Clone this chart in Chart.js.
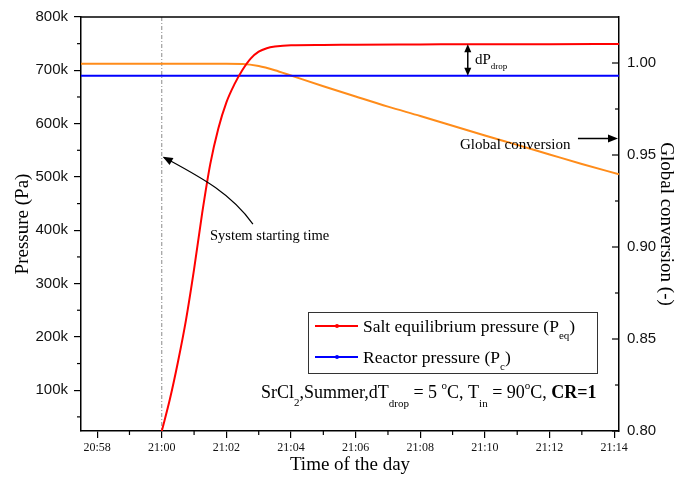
<!DOCTYPE html>
<html>
<head>
<meta charset="utf-8">
<style>
  html, body { margin: 0; padding: 0; background: #fff; }
  #wrap { width: 675px; height: 479px; }
</style>
<script src="https://cdn.jsdelivr.net/npm/chart.js@4.4.1/dist/chart.umd.min.js"></script>
</head>
<body>
<div id="wrap"><canvas id="chart"></canvas></div>
<script>
// x values are minutes relative to 21:00
const xTickValues = [-2, 0, 2, 4, 6, 8, 10, 12, 14];
const xTickLabels = ['20:58', '21:00', '21:02', '21:04', '21:06', '21:08', '21:10', '21:12', '21:14'];
const pressureTicks = [100000, 200000, 300000, 400000, 500000, 600000, 700000, 800000];
const conversionTicks = [0.80, 0.85, 0.90, 0.95, 1.00];

// Salt equilibrium pressure (Pa)
const saltTimes = [0, 0.25, 0.5, 0.75, 1, 1.25, 1.5, 1.75, 2, 2.25, 2.5, 2.75, 3, 3.25, 3.5, 4, 5, 6, 8, 10, 12, 14.15];
const saltPressure = [23500, 83000, 153000, 232000, 327000, 432000, 524000, 591000, 640000, 674000, 701000, 722000,
                      735000, 741500, 744500, 747000, 747500, 748000, 748500, 749000, 749000, 749500];

// Reactor pressure (Pa)
const reactorTimes = [-2.5, 14.15];
const reactorPressure = [690000, 690000];

// Global conversion (-)
const convTimes = [-2.5, 0, 2, 2.5, 3, 3.5, 4, 5, 6, 7, 8, 9, 10, 11, 12, 13, 14.15];
const convValues = [0.9996, 0.9996, 0.9996, 0.9995, 0.9984, 0.9961, 0.9932, 0.9874, 0.9818, 0.9763,
                    0.9712, 0.9659, 0.9606, 0.9555, 0.9503, 0.9451, 0.9395];

const serif = "'Liberation Serif', 'Times New Roman', serif";
const sans = "'Liberation Sans', Arial, sans-serif";

const toPoints = (xs, ys) => xs.map((x, i) => ({ x: x, y: ys[i] }));

function drawRuns(ctx, x, y, runs) {
    runs.forEach(r => {
        ctx.font = r.font;
        ctx.fillText(r.text, x, y + (r.dy || 0));
        x += ctx.measureText(r.text).width;
    });
}

function arrowHead(ctx, x, y, angle, len, half) {
    ctx.save();
    ctx.translate(x, y);
    ctx.rotate(angle);
    ctx.beginPath();
    ctx.moveTo(0, 0);
    ctx.lineTo(-len, -half);
    ctx.lineTo(-len, half);
    ctx.closePath();
    ctx.fill();
    ctx.restore();
}

function line(ctx, x1, y1, x2, y2) {
    ctx.beginPath();
    ctx.moveTo(x1, y1);
    ctx.lineTo(x2, y2);
    ctx.stroke();
}

const decorations = {
    id: 'decorations',
    beforeDatasetsDraw(chart) {
        const { ctx, chartArea } = chart;
        const px = chart.scales.x.getPixelForValue(0);
        ctx.save();
        ctx.strokeStyle = '#8a8a8a';
        ctx.lineWidth = 1;
        ctx.setLineDash([4, 2, 1, 2]);
        line(ctx, px, chartArea.top, px, chartArea.bottom);
        ctx.restore();
    },
    afterDraw(chart) {
        const { ctx, chartArea } = chart;
        const { left, right, top, bottom } = chartArea;
        const x = chart.scales.x, yL = chart.scales.y, yR = chart.scales.y1;
        const X = v => x.getPixelForValue(v);
        const YL = v => yL.getPixelForValue(v);
        const YR = v => yR.getPixelForValue(v);

        ctx.save();
        // frame top
        ctx.strokeStyle = '#000';
        ctx.lineWidth = 1.5;
        line(ctx, left, top, right, top);

        // minor ticks
        ctx.lineWidth = 1.2;
        for (let m = -1; m <= 13; m += 2) {
            line(ctx, X(m), bottom, X(m), bottom + 4);
        }
        for (let v = 50000; v < 800000; v += 100000) {
            const py = YL(v);
            if (py < bottom) line(ctx, left - 4, py, left, py);
        }
        // right axis ticks point inward
        conversionTicks.forEach(v => line(ctx, right - 7, YR(v), right, YR(v)));
        [0.825, 0.875, 0.925, 0.975].forEach(v => line(ctx, right - 4, YR(v), right, YR(v)));

        ctx.fillStyle = '#000';
        ctx.strokeStyle = '#000';
        ctx.textBaseline = 'alphabetic';

        // System starting time arrow
        ctx.lineWidth = 1.2;
        const p0 = [X(2.82), YL(411700)], c1 = [X(2.10), YL(472000)];
        const c2 = [X(1.15), YL(501000)], p3 = [X(0.06), YL(537000)];
        ctx.beginPath();
        ctx.moveTo(p0[0], p0[1]);
        ctx.bezierCurveTo(c1[0], c1[1], c2[0], c2[1], p3[0], p3[1]);
        ctx.stroke();
        arrowHead(ctx, p3[0] - 1, p3[1] - 0.5, Math.atan2(p3[1] - c2[1], p3[0] - c2[0]), 10, 4);
        ctx.font = '14.5px ' + serif;
        ctx.fillText('System starting time', X(1.49), YL(382000));

        // dP_drop double arrow
        const ax = X(9.47);
        const ya = YL(749000), yb = YL(690000);
        ctx.lineWidth = 1.5;
        line(ctx, ax, ya + 6, ax, yb - 6);
        arrowHead(ctx, ax, ya, -Math.PI / 2, 8, 3.5);
        arrowHead(ctx, ax, yb, Math.PI / 2, 8, 3.5);
        drawRuns(ctx, X(9.69), YL(712000), [
            { text: 'dP', font: '15px ' + serif },
            { text: 'drop', font: '9px ' + serif, dy: 5 }
        ]);

        // Global conversion pointer
        ctx.font = '15px ' + serif;
        ctx.fillText('Global conversion', X(9.23), YR(0.9535));
        const gy = YR(0.9589);
        ctx.lineWidth = 1.5;
        line(ctx, X(12.88), gy, right - 8, gy);
        arrowHead(ctx, right - 1, gy, 0, 10, 4);

        // legend
        const lx = left + 227, ly = top + 295;
        ctx.lineWidth = 1;
        ctx.strokeStyle = '#333';
        ctx.strokeRect(lx + 0.5, ly + 0.5, 289, 61);
        const entries = [
            { ds: chart.data.datasets[0], y: ly + 14, runs: [
                { text: 'Salt equilibrium pressure (P', font: '17.5px ' + serif },
                { text: 'eq', font: '11px ' + serif, dy: 7 },
                { text: ')', font: '17.5px ' + serif }
            ] },
            { ds: chart.data.datasets[1], y: ly + 45, runs: [
                { text: 'Reactor pressure (P', font: '17.5px ' + serif },
                { text: 'c', font: '11px ' + serif, dy: 7 },
                { text: ')', font: '17.5px ' + serif }
            ] }
        ];
        entries.forEach(e => {
            ctx.strokeStyle = e.ds.borderColor;
            ctx.fillStyle = e.ds.borderColor;
            ctx.lineWidth = 2;
            line(ctx, lx + 7, e.y, lx + 50, e.y);
            ctx.beginPath();
            ctx.arc(lx + 29, e.y, 2, 0, Math.PI * 2);
            ctx.fill();
            ctx.fillStyle = '#000';
            drawRuns(ctx, lx + 55, e.y + 6, e.runs);
        });

        // case description
        const big = '18px ' + serif, small = '11px ' + serif;
        drawRuns(ctx, X(3.07), YL(85000), [
            { text: 'SrCl', font: big },
            { text: '2', font: small, dy: 8 },
            { text: ',Summer,dT', font: big },
            { text: 'drop', font: small, dy: 9 },
            { text: ' = 5 ', font: big },
            { text: 'o', font: small, dy: -9 },
            { text: 'C, T', font: big },
            { text: 'in', font: small, dy: 9 },
            { text: ' = 90', font: big },
            { text: 'o', font: small, dy: -9 },
            { text: 'C, ', font: big },
            { text: 'CR=1', font: 'bold 18px ' + serif }
        ]);
        ctx.restore();
    }
};

const ctx = document.getElementById('chart').getContext('2d');
const chart = new Chart(ctx, {
    type: 'line',
    data: {
        datasets: [{
            label: 'Salt equilibrium pressure (Peq)',
            data: toPoints(saltTimes, saltPressure),
            borderColor: '#ff0000',
            borderWidth: 2,
            pointRadius: 0,
            cubicInterpolationMode: 'monotone',
            yAxisID: 'y'
        }, {
            label: 'Reactor pressure (Pc)',
            data: toPoints(reactorTimes, reactorPressure),
            borderColor: '#0000ff',
            borderWidth: 2,
            pointRadius: 0,
            yAxisID: 'y'
        }, {
            label: 'Global conversion',
            data: toPoints(convTimes, convValues),
            borderColor: '#ff8c1a',
            borderWidth: 2,
            pointRadius: 0,
            cubicInterpolationMode: 'monotone',
            yAxisID: 'y1'
        }]
    },
    options: {
        responsive: true,
        maintainAspectRatio: false,
        animation: false,
        layout: { padding: { top: 15, left: 0, right: 0, bottom: 0 } },
        plugins: {
            legend: { display: false },
            tooltip: { enabled: false }
        },
        scales: {
            x: {
                type: 'linear',
                min: -2.5,
                max: 14.15,
                afterBuildTicks: scale => { scale.ticks = xTickValues.map(v => ({ value: v })); },
                afterFit: scale => { scale.height = 48; },
                ticks: {
                    callback: (value, index) => xTickLabels[index],
                    font: { family: serif, size: 12 },
                    color: '#111',
                    padding: 3,
                    maxRotation: 0,
                    autoSkip: false
                },
                grid: { drawOnChartArea: false, tickLength: 7, color: '#000', lineWidth: 1.2 },
                border: { color: '#000', width: 1.5 },
                title: {
                    display: true,
                    text: 'Time of the day',
                    font: { family: serif, size: 19 },
                    color: '#000',
                    padding: { top: 0, bottom: 3 }
                }
            },
            y: {
                position: 'left',
                min: 23500,
                max: 800000,
                afterBuildTicks: scale => { scale.ticks = pressureTicks.map(v => ({ value: v })); },
                afterFit: scale => { scale.width = 81; },
                ticks: {
                    callback: value => (value / 1000) + 'k',
                    font: { family: sans, size: 15 },
                    color: '#111',
                    padding: 6
                },
                grid: { drawOnChartArea: false, tickLength: 7, color: '#000', lineWidth: 1.2 },
                border: { color: '#000', width: 1.5 },
                title: {
                    display: true,
                    text: 'Pressure (Pa)',
                    font: { family: serif, size: 19 },
                    color: '#000',
                    padding: { top: 12, bottom: 0 }
                }
            },
            y1: {
                position: 'right',
                min: 0.8,
                max: 1.025,
                afterBuildTicks: scale => { scale.ticks = conversionTicks.map(v => ({ value: v })); },
                afterFit: scale => { scale.width = 56; },
                ticks: {
                    callback: value => value.toFixed(2),
                    font: { family: sans, size: 15 },
                    color: '#111',
                    padding: 8
                },
                grid: { display: false, drawTicks: false, tickLength: 0 },
                border: { display: true, color: '#000', width: 1.5 },
                title: {
                    display: true,
                    text: 'Global conversion (-)',
                    font: { family: serif, size: 19, lineHeight: 1 },
                    color: '#000',
                    padding: { top: 0, bottom: 0 }
                }
            }
        }
    },
    plugins: [decorations]
});
</script>
</body>
</html>
